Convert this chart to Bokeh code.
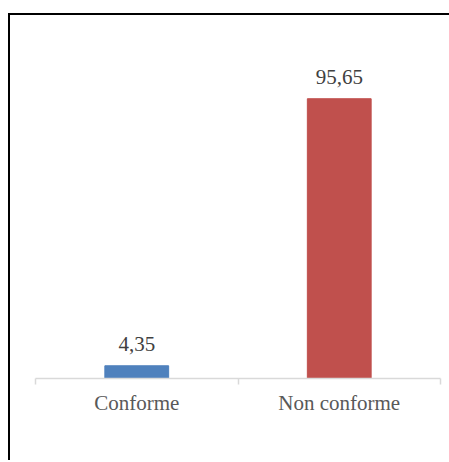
from bokeh.plotting import figure
from bokeh.models import ColumnDataSource, FixedTicker, Range1d
from bokeh.core.properties import value
from bokeh.embed import file_html
from bokeh.resources import INLINE

categories = ["Conforme", "Non conforme"]
values = [4.35, 95.65]
colors = ["#4F81BD", "#C0504D"]
value_labels = ["4,35", "95,65"]

x_pos = [i + 0.5 for i in range(len(categories))]
source = ColumnDataSource(dict(x=x_pos, top=values, color=colors, label=value_labels))

FONT = "'Liberation Serif', 'Times New Roman', serif"

p = figure(
    width=445, height=447,
    x_range=Range1d(0, len(categories)),
    y_range=Range1d(0, 120),
    output_backend="svg",
    toolbar_location=None,
    min_border_left=25, min_border_right=15,
    min_border_top=12, min_border_bottom=84,
)
p.margin = (13, 0, 0, 8)
p.styles = {"border-left": "2px solid #000000", "border-top": "2px solid #000000"}

p.vbar(x="x", top="top", bottom=0, width=0.315, color="color", source=source)

p.text(x="x", y="top", text="label", source=source,
       text_align="center", text_baseline="alphabetic", y_offset=-22,
       text_font=value(FONT), text_font_size="21px", text_color="#404040")

# category labels centred under the bars, tick marks at the category boundaries
xa = p.xaxis[0]
xa.ticker = FixedTicker(ticks=x_pos, minor_ticks=list(range(len(categories) + 1)))
xa.major_label_overrides = {x: c for x, c in zip(x_pos, categories)}
xa.major_tick_line_color = None
xa.minor_tick_line_color = "#D9D9D9"
xa.minor_tick_line_width = 1.5
xa.minor_tick_in = 0
xa.minor_tick_out = 6
xa.axis_line_color = "#D9D9D9"
xa.axis_line_width = 1.5
xa.major_label_text_font = FONT
xa.major_label_text_font_size = "21px"
xa.major_label_text_color = "#595959"
xa.major_label_standoff = 6

p.yaxis.visible = False
p.grid.visible = False
p.outline_line_color = None
p.background_fill_color = "white"
p.border_fill_color = "white"

open("out.html", "w").write(file_html(p, INLINE))
